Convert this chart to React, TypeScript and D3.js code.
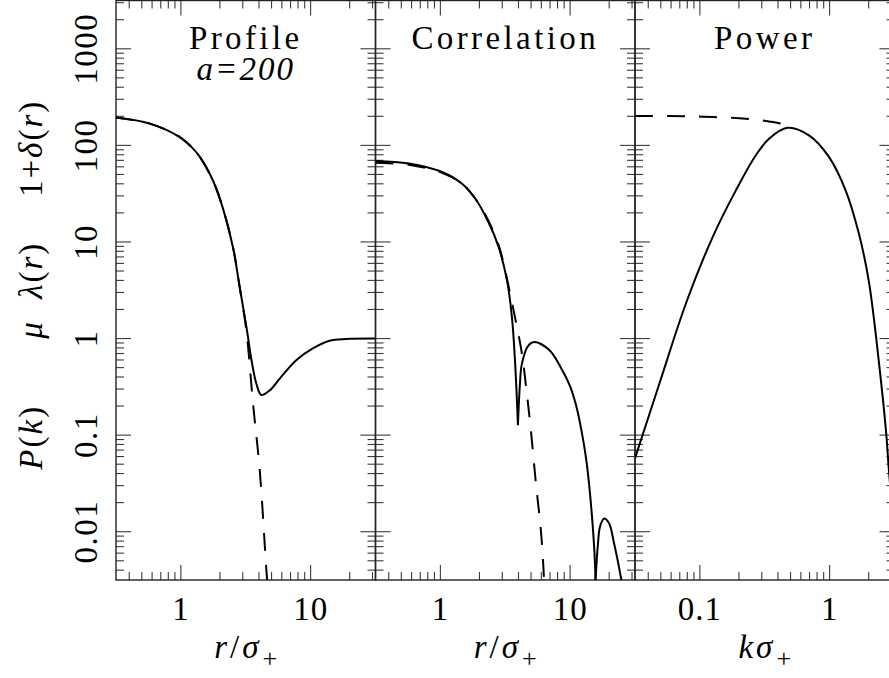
import React from "react";
import * as d3 from "d3";

// Profile panel, x = r/sigma_+
const profileSolid: [number, number][] = [
  [0.316, 194], [0.577, 168], [0.98, 122], [1.2, 97], [1.4, 76], [1.77, 43], [2.115, 22],
  [2.53, 8.6], [2.84, 3.4], [3.2, 1.32], [3.5, 0.6], [3.82, 0.34], [4.17, 0.26],
  [4.83, 0.29], [5.78, 0.385], [7.78, 0.6], [10.4, 0.79], [14.0, 0.95], [18.8, 0.99], [31.6, 1.0],
];
const profileDashed: [number, number][] = [
  [0.316, 194], [0.577, 168], [0.98, 122], [1.2, 97], [1.4, 76], [1.77, 43], [2.115, 22],
  [2.53, 8.6], [2.84, 3.4], [3.2, 1.2], [3.6, 0.21], [4.05, 0.044], [4.56, 0.004], [4.64, 0.003],
];

// Correlation panel, x = r/sigma_+ (solid split at the cusps)
const corrSolidA: [number, number][] = [
  [0.316, 69], [0.57, 65], [1.03, 53], [1.47, 40], [1.86, 28], [2.35, 16],
  [2.81, 8.9], [3.26, 4.0], [3.56, 1.67], [3.77, 0.55], [3.96, 0.127],
];
const corrSolidB: [number, number][] = [
  [3.96, 0.127], [4.1, 0.33], [4.25, 0.55], [4.78, 0.85], [5.31, 0.92], [6.91, 0.76],
  [8.51, 0.495], [9.98, 0.322], [11.1, 0.205], [12.13, 0.118], [13.42, 0.0514],
  [14.67, 0.0156], [15.55, 0.0047], [15.67, 0.003],
];
const corrSolidC: [number, number][] = [
  [15.67, 0.003], [16.4, 0.0076], [17.0, 0.0113], [18.3, 0.0137], [19.95, 0.0122],
  [21.8, 0.0076], [23.5, 0.0047], [25.0, 0.003],
];
const corrDashed: [number, number][] = [
  [0.316, 66], [0.57, 63], [1.03, 52], [1.47, 40], [1.86, 28], [2.35, 16.5],
  [2.81, 9.3], [3.07, 6.0], [3.45, 2.9], [3.89, 1.32], [4.25, 0.7], [4.64, 0.27],
  [4.98, 0.113], [5.45, 0.0316], [5.95, 0.0104], [6.24, 0.004], [6.3, 0.003],
];

// Power panel, x = k sigma_+
const powerSolid: [number, number][] = [
  [0.0316, 0.0574], [0.0487, 0.34], [0.0782, 2.32], [0.1257, 11.3],
  [0.189, 34], [0.27, 79], [0.341, 117], [0.473, 152], [0.693, 127], [0.988, 76],
  [1.33, 34], [1.68, 12.2], [2.0, 4.0], [2.42, 0.51], [2.73, 0.104], [2.84, 0.05], [3.0, 0.02],
];
const powerDashed: [number, number][] = [
  [0.0316, 201], [0.058, 201], [0.105, 198], [0.189, 192], [0.255, 186],
  [0.341, 177], [0.445, 164], [0.473, 155],
];

const yTickLabels = ["0.01", "0.1", "1", "10", "100", "1000"];
// vertical label pieces, placed at a value on the y scale
const yLabelParts = [
  { text: "P(k)", at: 0.095, italic: [0, 2] },
  { text: "μ", at: 1.24, italic: [0] },
  { text: "λ(r)", at: 5.1, italic: [0, 2] },
  { text: "1+δ(r)", at: 93, italic: [2, 4] },
];

const W = 889;
const H = 678;
const plotTop = 0.5;
const plotBottom = 580;
const firstLeft = 116;
const panelW = 259.5;
const font = "'Liberation Serif', 'DejaVu Serif', serif";

const panels = [
  {
    id: "profile",
    title: "Profile",
    subtitle: "a=200",
    xDomain: [10 ** -0.5, 10 ** 1.5],
    xLabel: "r",
    xLabelSep: "/",
    lines: [
      { data: profileSolid, dash: null },
      { data: profileDashed, dash: "18 14" },
    ],
  },
  {
    id: "corr",
    title: "Correlation",
    subtitle: null,
    xDomain: [10 ** -0.5, 10 ** 1.5],
    xLabel: "r",
    xLabelSep: "/",
    lines: [
      { data: corrSolidA, dash: null },
      { data: corrSolidB, dash: null },
      { data: corrSolidC, dash: null },
      { data: corrDashed, dash: "18 14" },
    ],
  },
  {
    id: "power",
    title: "Power",
    subtitle: null,
    xDomain: [10 ** -1.5, 10 ** 0.5],
    xLabel: "k",
    xLabelSep: "",
    lines: [
      { data: powerSolid, dash: null },
      { data: powerDashed, dash: "18 14" },
    ],
  },
];

const isMajor = (t: number) => Math.abs(Math.log10(t) - Math.round(Math.log10(t))) < 1e-6;
const fmt = (t: number) => (t >= 1 ? String(Math.round(t)) : String(+t.toPrecision(1)));

function Panel({ p, i, y }: any) {
  const x0 = firstLeft + i * panelW;
  const x1 = x0 + panelW;
  const x = d3.scaleLog().domain(p.xDomain).range([x0, x1]);
  const line = d3
    .line<[number, number]>()
    .x((d) => x(d[0]))
    .y((d) => y(d[1]))
    .curve(d3.curveCatmullRom.alpha(0.5));
  const xt = x.ticks();
  const yt = y.ticks();
  const tickStroke = "#3a3a3a";
  const cx = (x0 + x1) / 2;
  return (
    <g>
      <defs>
        <clipPath id={`clip-${p.id}`}>
          <rect x={x0} y={plotTop} width={panelW} height={plotBottom - plotTop} />
        </clipPath>
      </defs>
      {/* x ticks, bottom and top */}
      {xt.map((t: number, k: number) => {
        const len = isMajor(t) ? 15 : 8;
        return (
          <g key={"x" + k} stroke={tickStroke} strokeWidth={1.1}>
            <line x1={x(t)} x2={x(t)} y1={plotBottom} y2={plotBottom - len} />
            <line x1={x(t)} x2={x(t)} y1={plotTop} y2={plotTop + len} />
          </g>
        );
      })}
      {/* y ticks, left and right */}
      {yt.map((t: number, k: number) => {
        const len = isMajor(t) ? 15 : 8;
        return (
          <g key={"y" + k} stroke={tickStroke} strokeWidth={1.1}>
            <line x1={x0} x2={x0 + len} y1={y(t)} y2={y(t)} />
            <line x1={x1} x2={x1 - len} y1={y(t)} y2={y(t)} />
          </g>
        );
      })}
      <rect x={x0} y={plotTop} width={panelW} height={plotBottom - plotTop} fill="none" stroke="#222" strokeWidth={1.4} />
      {/* x tick labels */}
      {xt.filter(isMajor).map((t: number, k: number) => (
        <text key={"xl" + k} x={x(t)} y={620} textAnchor="middle" fontSize={33} fontFamily={font} letterSpacing={1}>
          {fmt(t)}
        </text>
      ))}
      {/* axis label */}
      <text x={cx} y={658} textAnchor="middle" fontSize={33} fontFamily={font}>
        <tspan fontStyle="italic">{p.xLabel}</tspan>
        {p.xLabelSep ? <tspan dx={3}>{p.xLabelSep}</tspan> : null}
        <tspan fontStyle="italic" dx={3}>σ</tspan>
        <tspan dx={4} dy={9} fontSize={26}>+</tspan>
      </text>
      {/* title */}
      <text x={cx} y={49} textAnchor="middle" fontSize={33} fontFamily={font} letterSpacing={3.4}>
        {p.title}
      </text>
      {p.subtitle ? (
        <text x={cx} y={80} textAnchor="middle" fontSize={33} fontFamily={font} fontStyle="italic" letterSpacing={2}>
          {p.subtitle}
        </text>
      ) : null}
      <g clipPath={`url(#clip-${p.id})`}>
        {p.lines.map((l: any, k: number) => (
          <path
            key={"l" + k}
            d={line(l.data) || ""}
            fill="none"
            stroke="#000"
            strokeWidth={2}
            strokeDasharray={l.dash || undefined}
          />
        ))}
      </g>
    </g>
  );
}

export default function App() {
  const y = d3.scaleLog().domain([10 ** -2.5, 10 ** 3.5]).range([plotBottom, plotTop]);
  const majors = y.ticks().filter(isMajor);
  return (
    <div style={{ position: "absolute", left: 0, top: 0 }}>
      <svg width={W} height={H} style={{ display: "block", background: "#fff" }}>
        <rect width={W} height={H} fill="#fff" />
        {panels.map((p, i) => (
          <Panel key={p.id} p={p} i={i} y={y} />
        ))}
        {majors.map((t: number, k: number) => (
          <text
            key={"yl" + k}
            transform={`translate(97, ${y(t)}) rotate(-90)`}
            textAnchor="middle"
            fontSize={33}
            fontFamily={font}
            letterSpacing={1.5}
          >
            {yTickLabels[k]}
          </text>
        ))}
        {yLabelParts.map((part, k) => (
          <text
            key={"lab" + k}
            transform={`translate(42, ${y(part.at)}) rotate(-90)`}
            textAnchor="middle"
            fontSize={33}
            fontFamily={font}
            letterSpacing={2}
          >
            {Array.from(part.text).map((ch, c) => (
              <tspan key={c} fontStyle={part.italic.includes(c) ? "italic" : "normal"}>
                {ch}
              </tspan>
            ))}
          </text>
        ))}
      </svg>
    </div>
  );
}
